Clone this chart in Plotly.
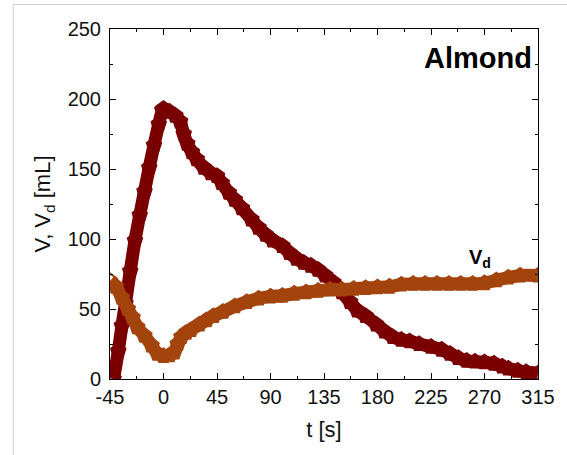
import plotly.graph_objects as go

# V (volume) series
t_v = [-42, -38, -35, -32, -28, -24, -20, -16, -12, -8, -4, -1, 0, 5, 10, 14, 17, 20, 24, 28, 34, 40, 45,
       49, 55, 60, 66, 74, 80, 86, 92, 100, 106, 112, 118, 124, 130, 136, 143, 150, 157, 163, 170,
       179, 186, 193, 200, 207, 215, 225, 234, 241, 248, 255, 262, 270, 278, 285, 290, 298, 305, 315]
v_vals = [0, 20, 38, 54, 77, 99, 117, 134, 151, 167, 182, 192, 193, 191, 188, 184, 175, 168, 162, 157, 151, 147, 145,
          140, 133, 128, 122, 114, 108, 103, 99, 95, 90, 86, 83, 81, 78, 74, 69, 62, 55, 49, 45,
          39, 34, 30, 28, 27, 25, 23, 21, 18, 15, 13, 12.5, 12, 11, 9, 7.5, 6, 5, 4]

# Vd series
t_vd = [-45, -40, -35, -30, -26, -22, -16, -10, -5, 0, 5, 9, 12, 15, 19, 23, 30, 36, 42, 50, 60, 70, 80, 90,
        100, 110, 120, 130, 140, 150, 160, 170, 180, 190, 200, 210, 220, 230, 240, 250, 260, 270, 280,
        290, 300, 315]
vd_vals = [70, 66, 58, 50, 44, 37, 31, 24, 18, 16.5, 17, 19, 25, 30, 33, 35, 39, 42, 45, 48, 52, 55, 57.5, 59,
           59.5, 61, 62, 63, 64, 64, 64.5, 65, 65.5, 66, 67.5, 68, 68, 68, 68, 68, 68, 68.5, 70.5,
           72.5, 74, 74]

x_ticks = [-45, 0, 45, 90, 135, 180, 225, 270, 315]
y_ticks = [0, 50, 100, 150, 200, 250]

c_v = "#7a0000"
c_vd = "#a3440c"

fig = go.Figure()
for tt, yy, col in [(t_v, v_vals, c_v), (t_vd, vd_vals, c_vd)]:
    fig.add_trace(go.Scatter(
        x=tt, y=yy, mode="lines+markers",
        line=dict(color=col, width=13, shape="spline", smoothing=0.6),
        marker=dict(symbol="pentagon-open", size=15, color=col, line=dict(color=col, width=2)),
        showlegend=False, cliponaxis=True,
    ))

font_family = "Liberation Sans, Arial, sans-serif"
axis_common = dict(
    showline=True, linecolor="black", linewidth=1, mirror="allticks",
    ticks="inside", ticklen=6, tickwidth=1, tickcolor="black",
    showgrid=False, zeroline=False,
    tickfont=dict(family=font_family, size=20, color="#111"),
)

fig.update_xaxes(
    range=[-45, 315], tickvals=x_ticks, ticktext=[str(v) for v in x_ticks],
    minor=dict(ticks="inside", ticklen=3, tickcolor="black", dtick=22.5, tick0=-45, showgrid=False),
    title=dict(text="t [s]", font=dict(family=font_family, size=22, color="#111"), standoff=14),
    **axis_common,
)
fig.update_yaxes(
    range=[0, 250], tickvals=y_ticks, ticktext=[str(v) for v in y_ticks],
    minor=dict(ticks="inside", ticklen=3, tickcolor="black", dtick=25, tick0=0, showgrid=False),
    title=dict(text="V, V<sub>d</sub> [mL]", font=dict(family=font_family, size=22, color="#111"), standoff=10),
    ticklabelstandoff=4,
    **axis_common,
)

fig.add_annotation(x=0.99, y=0.917, xref="paper", yref="paper", text="<b>Almond</b>",
                   showarrow=False, xanchor="right", yanchor="middle",
                   font=dict(family=font_family, size=29, color="black"))
fig.add_annotation(x=255, y=86, xref="x", yref="y", text="<b>V<sub>d</sub></b>",
                   showarrow=False, xanchor="left", yanchor="middle",
                   font=dict(family=font_family, size=20, color="black"))

# light frame around the figure (as in reference image)
fig.add_shape(type="rect", xref="paper", yref="paper", x0=-0.226, y0=-0.4, x1=1.3, y1=1.07,
              line=dict(color="#cfcfcf", width=1), layer="below")

fig.update_layout(
    width=567, height=455,
    margin=dict(l=110, r=23, t=29, b=76),
    paper_bgcolor="white", plot_bgcolor="white",
)

fig.write_html("out.html")
